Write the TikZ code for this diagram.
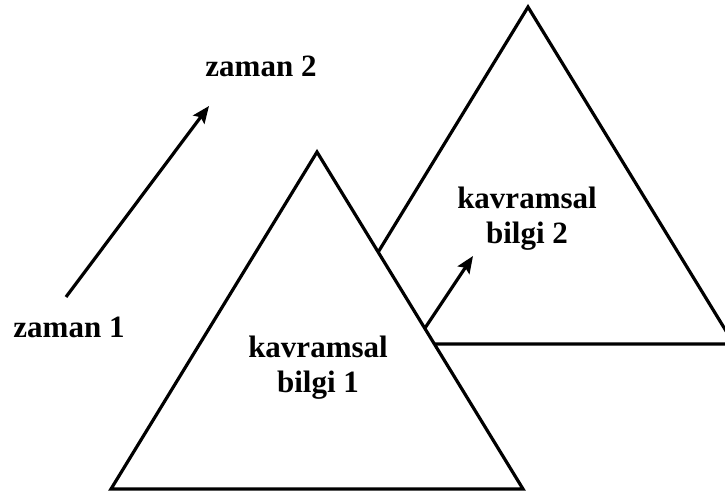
\documentclass[tikz,border=0pt]{standalone}
\usepackage{fontspec}
\setmainfont{Liberation Serif}
\usepackage{tikz}
\usetikzlibrary{arrows.meta}

\begin{document}
\begin{tikzpicture}[x=1pt,y=-1pt,>={Stealth[length=17pt,width=14pt,inset=3pt]}]
  \tikzstyle{edge}=[line width=3.2pt,line join=miter]
  \tikzstyle{label}=[font=\fontsize{31}{35}\selectfont\bfseries,align=center]
  \useasboundingbox (0,0) rectangle (725,494);

  % back triangle
  \coordinate (top2) at (528,7);
  \coordinate (left2) at (322,344);
  \coordinate (right2) at (734,344);
  \draw[edge] (top2) -- (left2) -- (right2) -- cycle;

  % front triangle
  \coordinate (top1) at (317,152);
  \coordinate (left1) at (111,489);
  \coordinate (right1) at (523,489);
  \draw[edge,fill=white] (top1) -- (left1) -- (right1) -- cycle;

  \node[label] (t1) at (69,327) {zaman 1};
  \node[label] (t2) at (261,66) {zaman 2};
  \node[label] (k1) at (318,368) {kavramsal\\bilgi 1};
  \node[label] (k2) at (527,219) {kavramsal\\bilgi 2};

  \coordinate (a1) at (66,297);
  \coordinate (a2) at (209,106);
  \draw[edge,->] (a1) -- (a2);

  \coordinate (b1) at (425,328);
  \coordinate (b2) at (473,256);
  \draw[edge,->] (b1) -- (b2);
\end{tikzpicture}
\end{document}
